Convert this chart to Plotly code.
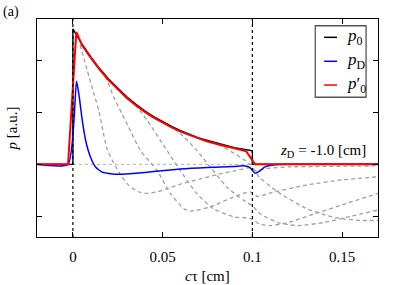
import plotly.graph_objects as go

# ---- data ----
p0_x = [-0.02, 0.0, 0.0, 0.005, 0.01, 0.015, 0.02, 0.025, 0.03, 0.035, 0.04, 0.045,
        0.05, 0.055, 0.06, 0.065, 0.07, 0.075, 0.08, 0.085, 0.09, 0.095, 0.1, 0.1, 0.17]
p0_y = [0.0, 0.0, 2.61, 2.32, 2.07, 1.84, 1.64, 1.46, 1.30, 1.16, 1.03, 0.92,
        0.82, 0.73, 0.65, 0.58, 0.51, 0.46, 0.41, 0.36, 0.32, 0.29, 0.26, 0.0, 0.0]

p0p_x = [-0.02, -0.0027, 0.0019, 0.005, 0.01, 0.015, 0.02, 0.025, 0.03, 0.035, 0.04, 0.045,
         0.05, 0.055, 0.06, 0.065, 0.07, 0.075, 0.08, 0.085, 0.09, 0.095, 0.0966, 0.1015, 0.17]
p0p_y = [0.0, 0.0, 2.55, 2.30, 2.05, 1.82, 1.62, 1.44, 1.28, 1.14, 1.01, 0.90,
         0.80, 0.71, 0.63, 0.56, 0.50, 0.44, 0.39, 0.35, 0.31, 0.27, 0.25, 0.0, 0.0]

pD_x = [-0.02, -0.0027, 0.002, 0.0033, 0.0052, 0.0071, 0.0098, 0.0126, 0.0163, 0.021,
        0.0265, 0.035, 0.045, 0.06, 0.075, 0.09, 0.096, 0.0985, 0.1015, 0.104, 0.107,
        0.1126, 0.12, 0.17]
pD_y = [0.0, 0.0, 1.60, 1.36, 0.85, 0.46, 0.14, -0.05, -0.15, -0.18,
        -0.19, -0.17, -0.14, -0.09, -0.06, -0.04, -0.03, -0.06, -0.17, -0.13, -0.05,
        -0.01, 0.0, 0.0]

g1_x = [0.004, 0.008, 0.0117, 0.0144, 0.0163, 0.019, 0.0228, 0.0265, 0.031, 0.0358, 0.041,
        0.047, 0.0524, 0.06, 0.0709, 0.08, 0.0895, 0.098, 0.102, 0.108, 0.12, 0.14, 0.17]
g1_y = [2.30, 1.81, 1.36, 1.04, 0.72, 0.30, 0.02, -0.20, -0.40, -0.52, -0.56,
        -0.53, -0.47, -0.38, -0.28, -0.20, -0.13, -0.07, -0.12, -0.08, -0.05, -0.04, -0.03]

g2_x = [0.016, 0.019, 0.0228, 0.0274, 0.031, 0.0376, 0.0469, 0.0543, 0.0617, 0.0654,
        0.0765, 0.0895, 0.0987, 0.103, 0.11, 0.13, 0.15, 0.17]
g2_y = [1.80, 1.62, 1.29, 0.97, 0.72, 0.27, -0.12, -0.56, -0.85, -0.90,
        -0.82, -0.63, -0.53, -0.62, -0.55, -0.40, -0.30, -0.24]

g3_x = [0.032, 0.0358, 0.0413, 0.0524, 0.0598, 0.069, 0.078, 0.0895, 0.0987, 0.104,
        0.11, 0.12, 0.135, 0.15, 0.17]
g3_y = [1.24, 1.10, 0.85, 0.27, -0.12, -0.56, -0.85, -1.01, -1.04, -1.15,
        -1.18, -1.12, -0.95, -0.78, -0.56]

g4_x = [0.05, 0.056, 0.062, 0.069, 0.0765, 0.0858, 0.095, 0.1, 0.105, 0.115, 0.125,
        0.14, 0.155, 0.17]
g4_y = [0.82, 0.70, 0.52, 0.27, -0.05, -0.44, -0.69, -0.80, -0.97, -1.13, -1.18,
        -1.12, -1.00, -0.88]

g5_x = [0.07, 0.08, 0.0895, 0.0987, 0.104, 0.115, 0.13, 0.145, 0.16, 0.17]
g5_y = [0.51, 0.40, 0.22, 0.0, -0.25, -0.55, -0.85, -1.02, -1.08, -1.08]

gray_x = [g1_x, g2_x, g3_x, g4_x, g5_x]
gray_y = [g1_y, g2_y, g3_y, g4_y, g5_y]

x_ticks = [0, 0.05, 0.1, 0.15]
x_tick_labels = ["0", "0.05", "0.1", "0.15"]
y_ticks = [-1, 0, 1, 2]
ref_lines_x = [0.0, 0.1]

legend_labels = ["<i>p</i><sub>0</sub>", "<i>p</i><sub>D</sub>", "<i>p</i>′<sub>0</sub>"]
legend_colors = ["black", "#0000ff", "#ff0000"]

FONT = "Liberation Serif, Times New Roman, serif"

fig = go.Figure()

for gx, gy in zip(gray_x, gray_y):
    fig.add_trace(go.Scatter(x=gx, y=gy, mode="lines", showlegend=False,
                             line=dict(color="#a0a0a0", width=1.3, dash="4px,3px", shape="spline", smoothing=0.6),
                             hoverinfo="skip"))

fig.add_trace(go.Scatter(x=p0_x, y=p0_y, mode="lines", name="p0",
                         line=dict(color="black", width=1.4)))
fig.add_trace(go.Scatter(x=pD_x, y=pD_y, mode="lines", name="pD",
                         line=dict(color="#0000ff", width=1.5, shape="spline", smoothing=0.5)))
fig.add_trace(go.Scatter(x=p0p_x, y=p0p_y, mode="lines", name="p0'",
                         line=dict(color="#ff0000", width=2)))

shapes = []
for rx in ref_lines_x:
    shapes.append(dict(type="line", xref="x", yref="paper", x0=rx, x1=rx, y0=0, y1=1,
                       line=dict(color="black", width=1.2, dash="dot"), layer="above"))
shapes.append(dict(type="line", xref="paper", yref="y", x0=0, x1=1, y0=0, y1=0,
                   line=dict(color="#999999", width=0.8, dash="dot"), layer="below"))

# legend box (manual)
lx0, lx1, ly0, ly1 = 0.816, 0.965, 0.641, 0.969
shapes.append(dict(type="rect", xref="paper", yref="paper", x0=lx0, x1=lx1, y0=ly0, y1=ly1,
                   line=dict(color="#555555", width=1.3), fillcolor="white", layer="above"))
rows = [0.916, 0.806, 0.697]
annotations = []
for ry, lab, col in zip(rows, legend_labels, legend_colors):
    shapes.append(dict(type="line", xref="paper", yref="paper", x0=0.842, x1=0.880, y0=ry, y1=ry,
                       line=dict(color=col, width=1.5), layer="above"))
    annotations.append(dict(xref="paper", yref="paper", x=0.902, y=ry, text=lab, showarrow=False,
                            xanchor="left", yanchor="middle", font=dict(family=FONT, size=17, color="black")))

annotations.append(dict(xref="paper", yref="paper", x=0.972, y=0.395,
                        text="<i>z</i><sub>D</sub> = -1.0 [cm]", showarrow=False,
                        xanchor="right", yanchor="middle", font=dict(family=FONT, size=15, color="black")))
annotations.append(dict(xref="paper", yref="paper", x=-0.107, y=1.03, text="(a)", showarrow=False,
                        xanchor="left", yanchor="middle", font=dict(family=FONT, size=14, color="black")))
annotations.append(dict(xref="paper", yref="paper", x=-0.072, y=0.5, text="<i>p</i> [a.u.]",
                        showarrow=False, textangle=-90, xanchor="center", yanchor="middle",
                        font=dict(family=FONT, size=15, color="black")))
annotations.append(dict(xref="paper", yref="paper", x=0.5, y=-0.18, text="<i>c</i>τ [cm]",
                        showarrow=False, xanchor="center", yanchor="middle",
                        font=dict(family=FONT, size=15, color="black")))

fig.update_layout(
    width=407, height=285,
    margin=dict(l=37, r=29, t=19, b=48),
    paper_bgcolor="white", plot_bgcolor="white",
    showlegend=False,
    font=dict(family=FONT, size=15, color="black"),
    shapes=shapes, annotations=annotations,
)
fig.update_xaxes(range=[-0.02, 0.17], tickvals=x_ticks, ticktext=x_tick_labels,
                 ticks="inside", ticklen=5, tickcolor="black", tickwidth=1,
                 showline=True, linecolor="black", linewidth=1.3, mirror="ticks",
                 showgrid=False, zeroline=False, ticklabelstandoff=6,
                 tickfont=dict(family=FONT, size=15))
fig.update_yaxes(range=[-1.4, 2.8], tickvals=y_ticks, showticklabels=False,
                 ticks="inside", ticklen=5, tickcolor="black", tickwidth=1,
                 showline=True, linecolor="black", linewidth=1.3, mirror="ticks",
                 showgrid=False, zeroline=False)

fig.write_html("out.html", config={"displayModeBar": False},
               post_script="document.body.style.margin='0';")
